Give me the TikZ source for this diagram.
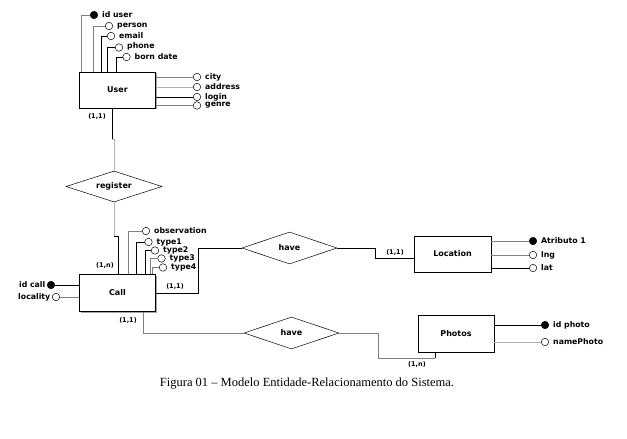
\documentclass[tikz,border=0pt]{standalone}
\usepackage{fontspec}
\setmainfont{Liberation Serif}
\newfontfamily\dvfont{DejaVu Sans}
\usetikzlibrary{shapes.geometric,shadows}
\begin{document}
\begin{tikzpicture}[x=1pt,y=-1pt,
  every node/.style={inner sep=0pt},
  every label/.style={label distance=3.5pt},
  ent/.style={draw, line width=0.7pt, fill=white, minimum width=76pt, minimum height=37pt,
    font=\dvfont\bfseries\fontsize{8}{9}\selectfont,
    drop shadow={shadow xshift=1.3pt,shadow yshift=-1.3pt,fill=gray!70,opacity=1}},
  rel/.style={draw, diamond, fill=white, line width=0.5pt, minimum width=95pt, minimum height=32pt, aspect=3,
    font=\dvfont\bfseries\fontsize{8}{9}\selectfont},
  atext/.style={font=\dvfont\bfseries\fontsize{7.8}{8}\selectfont, inner sep=0.5pt},
  att/.style={circle, draw, fill=white, line width=0.5pt, minimum size=7.5pt, label distance=3pt},
  key/.style={circle, draw, fill=black, line width=0.5pt, minimum size=7.5pt, label distance=3pt},
  card/.style={font=\dvfont\bfseries\fontsize{6.5}{7}\selectfont},
  ln/.style={line width=0.7pt, black},
  lg/.style={line width=0.7pt, gray},
  lgl/.style={line width=0.7pt, gray!60}
]
\useasboundingbox (0,0) rectangle (627,439);

% ===== Entities =====
\node[ent] (user) at (117.5,90) [minimum height=36pt] {User};
\node[ent] (call) at (117.5,293) {Call};
\node[ent, minimum width=77pt, minimum height=36pt] (location) at (452.5,254) {Location};
\node[ent, minimum height=37pt] (photos) at (456,333.5) {Photos};

% ===== Relationships =====
\node[rel, minimum width=96pt, minimum height=31pt] (register) at (114,186.5) {register};
\node[rel] (have1) at (289.5,248) {have};
\node[rel] (have2) at (291.5,333) {have};

% ===== User attributes =====
\node[key] (idu) at (94,15) [label={[atext]right:id user}] {};
\node[att] (person) at (109,26) [label={[atext]right:person}] {};
\node[att] (email) at (111,36) [label={[atext]right:email}] {};
\node[att] (phone) at (119,47.5) [label={[atext,yshift=1pt]right:phone}] {};
\node[att] (born) at (126.5,57) [label={[atext]right:born date}] {};
\node[att] (city) at (197,77) [label={[atext]right:city}] {};
\node[att] (address) at (197,87) [label={[atext]right:address}] {};
\node[att] (login) at (197,97) [label={[atext]right:login}] {};
\node[att] (genre) at (197,105.5) [label={[atext]right:genre}] {};

\draw[lg] (idu.west) -| ([xshift=2pt]user.north west);
\draw[lg] (person.west) -| ([xshift=14pt]user.north west);
\draw[ln] (email.west) -| ([xshift=22pt]user.north west);
\draw[ln] (phone.west) -| ([xshift=28pt]user.north west);
\draw[ln] (born.west) -| ([xshift=37pt]user.north west);
\draw[lg] (city.west) -- (city.west -| user.east);
\draw[lgl] (address.west) -- (address.west -| user.east);
\draw[ln] (login.west) -- (login.west -| user.east);
\draw[lg] (genre.west) -- (genre.west -| user.east);

% ===== Call attributes =====
\node[att] (obs) at (146,231) [label={[atext]right:observation}] {};
\node[att] (type1) at (148.5,242) [label={[atext]right:type1}] {};
\node[att] (type2) at (155,250.5) [label={[atext]right:type2}] {};
\node[att] (type3) at (161.5,258.5) [label={[atext]right:type3}] {};
\node[att] (type4) at (163,267.5) [label={[atext]right:type4}] {};
\node[key] (idcall) at (51,285) [label={[atext,label distance=1pt]left:id call}] {};
\node[att] (locality) at (56,297) [label={[atext,label distance=1pt]left:locality}] {};

\draw[lg] (obs.west) -| ([xshift=49pt]call.north west);
\draw[ln] (type1.west) -| ([xshift=57pt]call.north west);
\draw[ln] (type2.west) -| ([xshift=66pt]call.north west);
\draw[lg] (type3.west) -| ([xshift=71pt]call.north west);
\draw[lg] (type4.west) -| ([xshift=73pt]call.north west);
\draw[ln] (idcall.east) -- (idcall.east -| call.west);
\draw[lg] (locality.east) -- (locality.east -| call.west);

% ===== Location attributes =====
\node[key] (atr1) at (533,241) [label={[atext]right:Atributo 1}] {};
\node[att] (lng) at (533,255) [label={[atext]right:lng}] {};
\node[att] (lat) at (533,268) [label={[atext]right:lat}] {};
\draw[lg] (atr1.west) -- (atr1.west -| location.east);
\draw[lg] (lng.west) -- (lng.west -| location.east);
\draw[ln] (lat.west) -- (lat.west -| location.east);

% ===== Photos attributes =====
\node[key] (idphoto) at (545,325) [label={[atext]right:id photo}] {};
\node[att] (namephoto) at (545,342) [label={[atext]right:namePhoto}] {};
\draw[ln] (idphoto.west) -- (idphoto.west -| photos.east);
\draw[lgl] (namephoto.west) -- (namephoto.west -| photos.east);

% ===== Relationship connectors =====
\coordinate (uj) at (112,139);
\draw[ln] ([xshift=-5.5pt]user.south) -- (uj);
\draw[lgl] (uj) -| (register.north);
\coordinate (rj) at (114,236);
\draw[lgl] (register.south) -- (rj);
\draw[ln] (rj) -| ([xshift=0.5pt]call.north);

\draw[ln] (call.east) -| ([xshift=-43pt]have1.west) -- (have1.west);
\draw[ln] (have1.east) -- ++(38,0) |- ([yshift=-4pt]location.west);

\draw[lg] ([xshift=25.5pt]call.south) |- (have2.west);
\draw[lg] (have2.east) -- ++(39,0) |- ([xshift=-21pt,yshift=-6pt]photos.south);
\draw[ln] ([xshift=-21pt,yshift=-6pt]photos.south) -- ([xshift=-21pt]photos.south);

% ===== Cardinalities =====
\node[card] (c1) at (97,116) {(1,1)};
\node[card] (c2) at (105,265) {(1,n)};
\node[card] (c3) at (175,286) {(1,1)};
\node[card] (c4) at (128,320) {(1,1)};
\node[card] (c5) at (395,252) {(1,1)};
\node[card] (c6) at (417,364) {(1,n)};

% ===== Caption =====
\node[font=\fontsize{12.5}{14}\selectfont] (caption) at (307,384) {Figura 01 -- Modelo Entidade-Relacionamento do Sistema.};
\end{tikzpicture}
\end{document}
